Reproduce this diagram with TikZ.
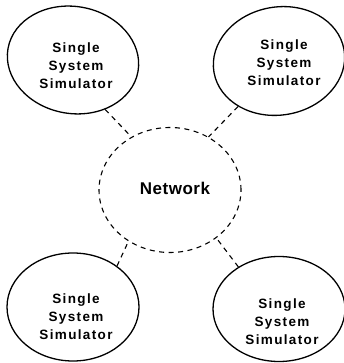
\documentclass[tikz,border=0pt]{standalone}
\usepackage{fontspec}
\setmainfont{Liberation Sans}
\newfontfamily\simfont[LetterSpace=10]{Liberation Sans Bold}
\newfontfamily\netfont[LetterSpace=3]{Liberation Sans Bold}
\usetikzlibrary{shapes.geometric}
\begin{document}
\begin{tikzpicture}[x=1pt,y=1pt,
  simbox/.style={ellipse,draw,line width=1.3pt,inner sep=0pt,minimum width=132pt,minimum height=107pt},
  simtext/.style={align=center,font=\simfont\fontsize{13.5}{18}\selectfont,inner sep=0pt},
  netbox/.style={ellipse,draw,dashed,dash pattern=on 5pt off 4.5pt,line width=1.1pt,inner sep=0pt,minimum width=142pt,minimum height=125pt},
  link/.style={draw,dash pattern=on 5pt off 4.5pt,line width=1.1pt}]
\useasboundingbox (0,0) rectangle (344,363);
\node[simbox,rotate=-10] (tl) at (73,303) {};
\node[simbox,rotate=10,minimum height=108pt] (tr) at (279,302) {};
\node[simbox,minimum height=108pt] (bl) at (73,56) {};
\node[simbox,minimum height=105pt] (br) at (279,54) {};
\node[netbox] (net) at (170,173) {};
\node[simtext] (tlt) at (76,297) {Single\\System\\Simulator};
\node[simtext] (trt) at (284,300) {Single\\System\\Simulator};
\node[simtext] (blt) at (76,46) {Single\\System\\Simulator};
\node[simtext] (brt) at (282,41) {Single\\System\\Simulator};
\node[font=\netfont\fontsize{17}{20}\selectfont,inner sep=0pt] (nett) at (175,175) {Network};
\draw[link] (tl.-47) -- (net.126);
\draw[link] (tr.-142) -- (net.54);
\draw[link] (bl.43) -- (net.231);
\draw[link] (br.134) -- (net.-46);
\end{tikzpicture}
\end{document}
